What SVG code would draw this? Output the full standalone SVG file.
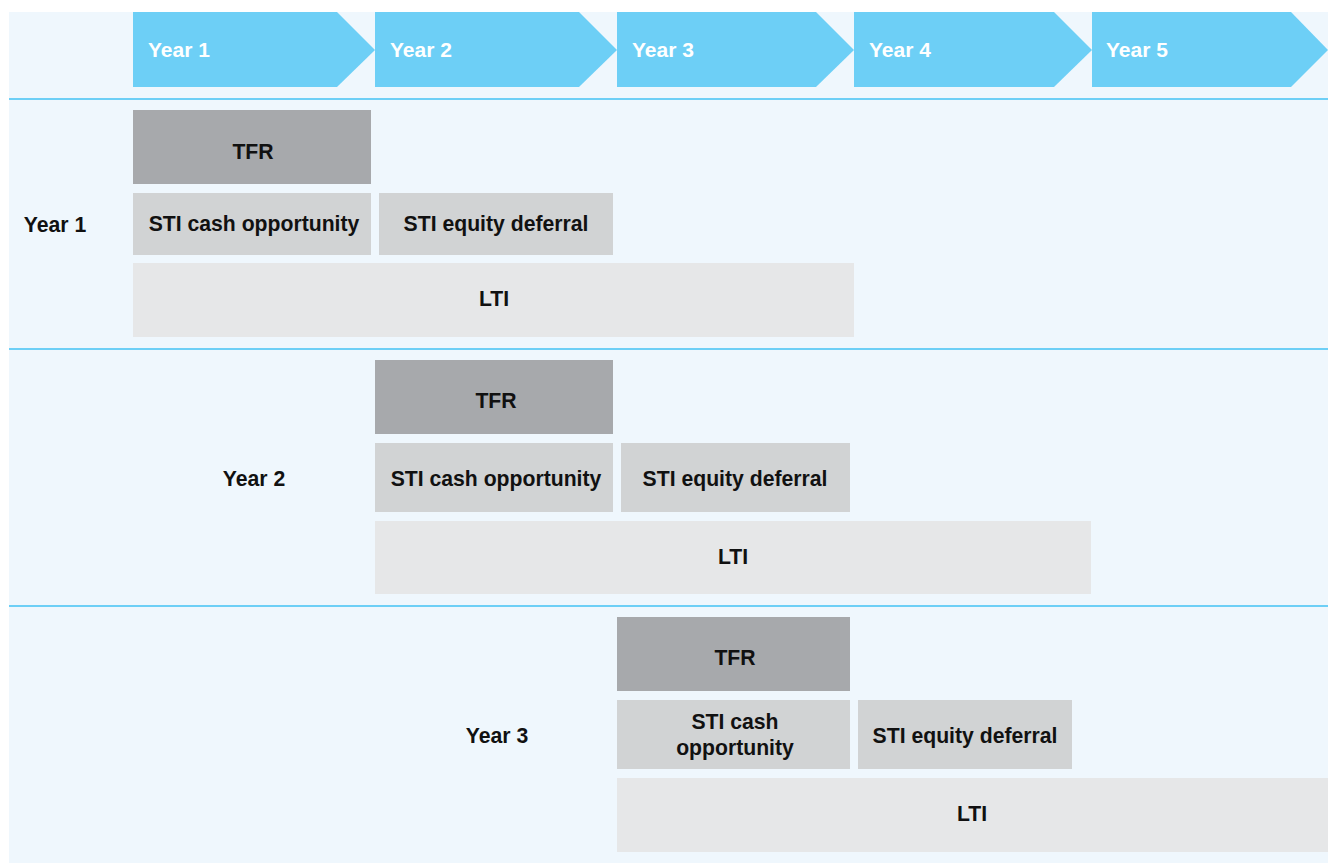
<svg xmlns="http://www.w3.org/2000/svg" width="1333" height="863" viewBox="0 0 1333 863">
<style>
.bg{fill:#eff7fd}
.chev{fill:#6dcff6}
.div{stroke:#6dcff6;stroke-width:2}
.tfr{fill:#a7a9ac}
.sti{fill:#d1d3d4}
.lti{fill:#e6e7e8}
text{font-family:"Liberation Sans",Arial,Helvetica,sans-serif;font-weight:bold;font-size:21.2px;fill:#111}
.ct{fill:#fff;font-size:21px}
.c{text-anchor:middle}
</style>
<rect x="0" y="0" width="1333" height="863" fill="#fff"/>
<rect class="bg" x="9" y="12" width="1319" height="851"/>
<g id="header">
<g id="h1"><polygon class="chev" points="133,12 337,12 375,50 337,87 133,87"/><text class="ct" x="148" y="57">Year 1</text></g>
<g id="h2"><polygon class="chev" points="375,12 579,12 617,50 579,87 375,87"/><text class="ct" x="390" y="57">Year 2</text></g>
<g id="h3"><polygon class="chev" points="617,12 816,12 854,50 816,87 617,87"/><text class="ct" x="632" y="57">Year 3</text></g>
<g id="h4"><polygon class="chev" points="854,12 1054,12 1092,50 1054,87 854,87"/><text class="ct" x="869" y="57">Year 4</text></g>
<g id="h5"><polygon class="chev" points="1092,12 1291,12 1328,50 1291,87 1092,87"/><text class="ct" x="1106" y="57">Year 5</text></g>
</g>
<g id="connectors">
<line class="div" x1="9" y1="99" x2="1328" y2="99"/>
<line class="div" x1="9" y1="349" x2="1328" y2="349"/>
<line class="div" x1="9" y1="606" x2="1328" y2="606"/>
</g>
<g id="row1">
<text x="55" y="232" class="c">Year 1</text>
<g id="r1-tfr"><rect class="tfr" x="133" y="110" width="238" height="74"/><text class="c" x="253" y="159">TFR</text></g>
<g id="r1-cash"><rect class="sti" x="133" y="193" width="238" height="62"/><text class="c" x="254" y="231">STI cash opportunity</text></g>
<g id="r1-eq"><rect class="sti" x="379" y="193" width="234" height="62"/><text class="c" x="496" y="231">STI equity deferral</text></g>
<g id="r1-lti"><rect class="lti" x="133" y="263" width="721" height="74"/><text class="c" x="494" y="306">LTI</text></g>
</g>
<g id="row2">
<text x="254" y="486" class="c">Year 2</text>
<g id="r2-tfr"><rect class="tfr" x="375" y="360" width="238" height="74"/><text class="c" x="496" y="408">TFR</text></g>
<g id="r2-cash"><rect class="sti" x="375" y="443" width="238" height="69"/><text class="c" x="496" y="486">STI cash opportunity</text></g>
<g id="r2-eq"><rect class="sti" x="621" y="443" width="229" height="69"/><text class="c" x="735" y="486">STI equity deferral</text></g>
<g id="r2-lti"><rect class="lti" x="375" y="521" width="716" height="73"/><text class="c" x="733" y="564">LTI</text></g>
</g>
<g id="row3">
<text x="497" y="743" class="c">Year 3</text>
<g id="r3-tfr"><rect class="tfr" x="617" y="617" width="233" height="74"/><text class="c" x="735" y="665">TFR</text></g>
<g id="r3-cash"><rect class="sti" x="617" y="700" width="233" height="69"/><text class="c" x="735" y="729">STI cash</text><text class="c" x="735" y="755">opportunity</text></g>
<g id="r3-eq"><rect class="sti" x="858" y="700" width="214" height="69"/><text class="c" x="965" y="743">STI equity deferral</text></g>
<g id="r3-lti"><rect class="lti" x="617" y="778" width="711" height="74"/><text class="c" x="972" y="821">LTI</text></g>
</g>
</svg>
